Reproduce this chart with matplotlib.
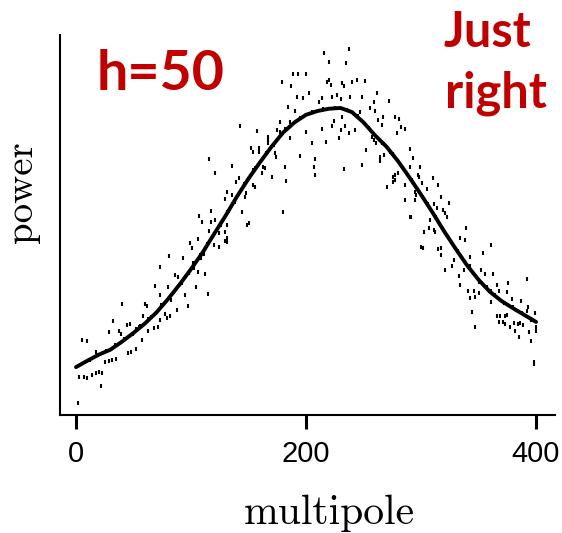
import matplotlib
matplotlib.use("Agg")
import matplotlib.pyplot as plt
from matplotlib import font_manager

# smooth fit, every 10 multipoles
curve_mult = list(range(0, 401, 10))
curve_power = [12.6, 14.3, 15.9, 17.2, 19.3, 21.6, 24.1, 27.0, 30.5, 34.3,
               38.4, 42.7, 47.6, 52.4, 57.5, 62.2, 66.5, 70.6, 74.3, 77.0,
               79.0, 80.0, 80.6, 80.8, 79.7, 77.0, 73.6, 70.6, 66.8, 62.5,
               58.0, 53.3, 48.4, 43.8, 39.4, 35.6, 32.4, 30.0, 28.1, 26.3, 24.5]

# noisy data points
mult = [2, 22, 3, 7, 10, 14, 17, 20, 23, 5, 10, 17, 25, 29, 31, 35, 29, 32, 37, 39,
        40, 44, 47, 45, 48, 52, 57, 60, 62, 52, 55, 58, 63, 63, 68, 69, 71, 73, 73, 73,
        77, 79, 82, 80, 81, 83, 88, 86, 89, 93, 95, 97, 99, 101, 102, 103, 104, 106, 109, 111,
        106, 112, 115, 116, 120, 124, 124, 130, 130,
        116, 121, 130, 107, 110, 117, 117, 121,
        216, 237, 220, 235, 189, 193, 200, 179, 187, 218, 220, 222, 231, 233, 240, 244, 251,
        192, 197, 203, 211, 214, 223, 227, 230, 238, 249, 262, 259, 272, 184, 190, 256, 260,
        267, 247, 177, 186, 224, 231, 223, 234, 263, 266, 143, 157, 200, 214, 230, 243, 237,
        175, 177, 182, 167, 167, 186, 229, 257, 259, 261, 266, 205, 217, 152, 154, 159, 159,
        167, 252, 195, 173, 174, 268, 264, 273, 264, 208, 136, 154, 156, 163, 164, 182, 207,
        233, 249, 162, 170, 208, 142, 139, 154, 156, 148, 147, 183, 270, 144, 180, 136, 150,
        131, 131, 131, 149, 131, 131,
        277, 281, 283, 286, 279, 290, 293, 290, 299, 280, 277, 277, 297, 298, 286, 301, 310,
        315, 295, 296, 305, 286, 295, 317, 311, 324, 314, 319, 321, 290, 323, 308, 276, 276, 291,
        339, 303, 307, 311, 312, 334, 338, 302, 315, 317, 317, 361, 354, 343, 329, 327, 321,
        337, 343, 352, 356, 363, 333, 350, 334, 366, 376, 392, 341, 346, 350, 361, 368, 375,
        343, 347, 361, 379, 387, 344, 393, 399, 392, 366, 369, 373, 375, 368, 371, 373, 377,
        381, 384, 386, 389, 400, 400, 382, 385, 394, 396, 347, 398, 398, 300,
        12, 18, 26, 34, 42, 50, 56, 65, 74, 85, 92, 98, 108, 114, 126, 133, 138, 146, 158,
        165, 172, 185, 195, 205, 215, 225, 236, 245, 255, 268, 276, 284, 292, 306, 313, 326,
        332, 345, 357, 364, 372, 380, 388, 396]
power = [3.2, 7.6, 10.0, 10.0, 9.7, 10.5, 11.1, 11.3, 11.1, 19.7, 19.5, 16.6, 14.0, 14.2, 14.5, 14.7, 21.8, 24.7, 22.1, 21.3,
         29.2, 23.7, 23.9, 16.3, 16.6, 17.4, 19.7, 29.2, 28.7, 22.6, 23.2, 26.1, 25.3, 22.1, 22.9, 34.0, 23.2, 25.0, 31.6, 38.9,
         26.6, 25.5, 26.1, 33.7, 41.8, 30.3, 27.6, 36.8, 36.3, 41.3, 31.6, 28.7, 45.3, 44.0, 40.0, 38.7, 33.7, 46.3, 41.3, 42.4,
         37.6, 37.1, 31.8, 48.4, 44.7, 44.2, 47.9, 48.2, 45.8,
         67.4, 63.7, 56.8, 52.4, 50.8, 53.7, 50.8, 51.3,
         95.3, 96.3, 92.9, 92.6, 89.7, 89.7, 89.7, 87.6, 86.6, 87.6, 88.2, 86.8, 87.4, 86.6, 87.6, 88.2, 87.9,
         83.7, 83.4, 84.7, 82.4, 83.4, 83.7, 84.2, 83.2, 83.7, 83.7, 84.7, 82.4, 82.6, 81.1, 80.0, 80.8, 80.0,
         78.4, 79.7, 77.1, 77.1, 77.4, 78.4, 76.1, 76.1, 77.6, 76.3, 76.1, 74.7, 74.5, 75.3, 75.0, 75.0, 74.2,
         75.0, 74.5, 75.2, 73.2, 72.4, 72.9, 72.9, 73.2, 72.4, 71.6, 71.6, 71.6, 71.8, 70.3, 69.2, 70.3, 69.2,
         71.6, 69.7, 68.2, 68.9, 67.9, 68.4, 67.9, 69.2, 66.8, 67.4, 65.5, 64.5, 65.0, 65.3, 65.0, 65.3, 65.3,
         64.7, 65.8, 63.7, 62.6, 63.2, 62.4, 61.3, 60.5, 60.0, 58.4, 57.4, 61.6, 60.0, 53.4, 53.4, 57.9, 50.5,
         58.7, 53.4, 50.0, 50.0, 46.6, 45.5,
         78.4, 77.9, 75.8, 75.3, 74.2, 70.0, 67.6, 65.3, 65.3, 63.7, 63.2, 61.8, 63.2, 62.6, 60.5, 61.0, 62.4,
         60.5, 58.7, 57.9, 59.5, 56.6, 56.6, 57.4, 55.5, 55.8, 54.5, 53.9, 53.2, 52.1, 52.1, 51.3, 61.3, 62.6, 52.1,
         49.2, 48.2, 49.2, 48.7, 48.2, 46.6, 46.1, 43.9, 43.7, 43.9, 42.1, 44.7, 42.6, 41.6, 40.8, 39.2, 38.2,
         38.2, 39.2, 38.2, 37.1, 37.1, 36.6, 35.0, 34.2, 34.2, 34.7, 35.8, 32.6, 32.6, 32.1, 32.6, 32.6, 32.4,
         30.8, 31.1, 29.7, 30.5, 30.0, 27.1, 28.4, 26.8, 27.4, 26.1, 26.1, 26.1, 26.3, 24.5, 24.5, 23.9, 23.2,
         24.2, 23.9, 24.2, 23.7, 23.2, 22.1, 22.1, 20.5, 21.8, 19.5, 23.2, 13.4, 13.9, 44.2,
         14.5, 15.8, 16.8, 18.5, 19.9, 21.3, 23.4, 25.8, 28.9, 32.5, 34.8, 37.5, 42.0, 45.1, 49.9, 53.7, 56.0, 60.9, 65.8,
         68.9, 71.0, 75.8, 78.1, 79.8, 80.4, 80.9, 80.2, 78.6, 75.4, 71.3, 68.6, 65.0, 61.9, 55.6, 52.2, 45.6,
         43.1, 37.4, 33.6, 31.6, 29.6, 28.4, 26.8, 25.1]

xticks = [0, 200, 400]

installed = {f.name for f in font_manager.fontManager.ttflist}
tick_font = 'Liberation Sans Narrow' if 'Liberation Sans Narrow' in installed else 'Liberation Sans'

fig = plt.figure(figsize=(5.62, 5.33), dpi=100)
ax = fig.add_axes([60/562, 1 - 415/533, 495/562, 380/533])

ax.plot(mult, power, '|', color='black', markersize=3.0, markeredgewidth=1.5)
ax.plot(curve_mult, curve_power, color='black', lw=2.8, solid_capstyle='round',
        solid_joinstyle='round')

ax.set_xlim(-13.9, 416.5)
ax.set_ylim(0, 100)
ax.spines['top'].set_visible(False)
ax.spines['right'].set_visible(False)
for s in ('left', 'bottom'):
    ax.spines[s].set_linewidth(1.5)
ax.set_yticks([])
ax.set_xticks(xticks)
ax.tick_params(axis='x', direction='out', length=10, width=2.2, pad=8)
for lab in ax.get_xticklabels():
    lab.set_fontfamily(tick_font)
    lab.set_fontsize(21)

ax.set_xlabel('multipole', fontfamily='cmr10', fontsize=30, va='baseline')
ax.xaxis.set_label_coords((329 - 60) / 495, (415 - 524) / 380)
ax.set_ylabel('power', fontfamily='cmr10', fontsize=28, va='center')
ax.yaxis.set_label_coords((22 - 60) / 495, (415 - 192) / 380)

red = '#C00000'
fig.text(97/562, 1 - 90/533, 'h=50', color=red, fontsize=40, fontweight='bold',
         family='Lato', ha='left', va='baseline')
fig.text(443/562, 1 - 47/533, 'Just', color=red, fontsize=35, fontweight='bold',
         family='Lato', ha='left', va='baseline')
fig.text(445/562, 1 - 108/533, 'right', color=red, fontsize=35, fontweight='bold',
         family='Lato', ha='left', va='baseline')

fig.savefig('out.png', dpi=100)
